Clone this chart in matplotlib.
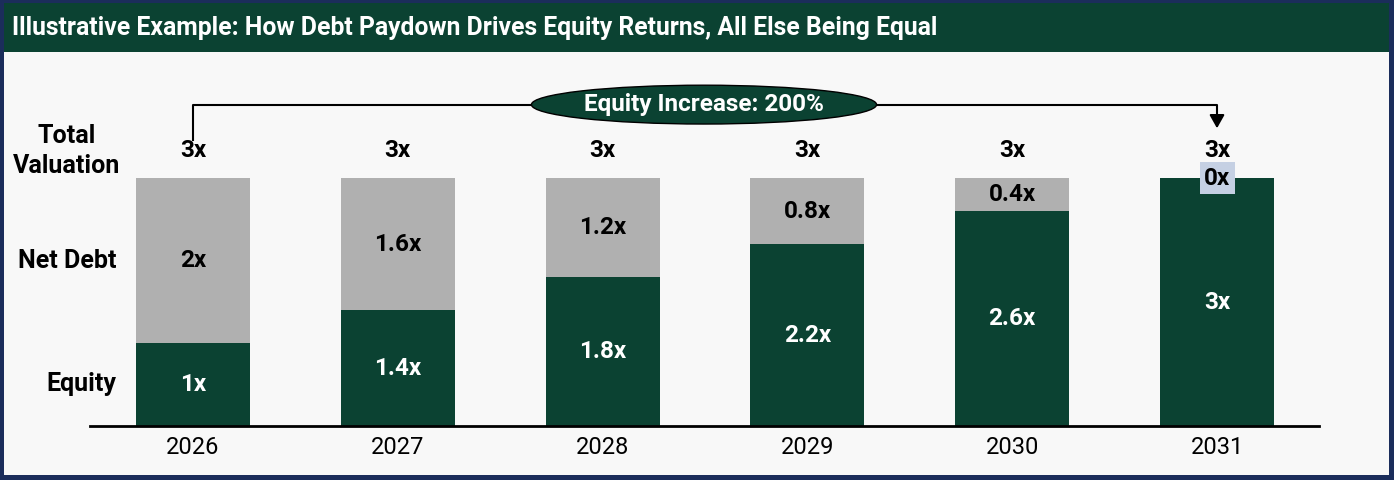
import numpy as np
import matplotlib.pyplot as plt
from matplotlib.patches import Rectangle, Ellipse

# Datos del gráfico
years = ['2026', '2027', '2028', '2029', '2030', '2031']
equity = [1.0, 1.4, 1.8, 2.2, 2.6, 3.0]
net_debt = [2.0, 1.6, 1.2, 0.8, 0.4, 0.0]
equity_labels = ['1x', '1.4x', '1.8x', '2.2x', '2.6x', '3x']
debt_labels = ['2x', '1.6x', '1.2x', '0.8x', '0.4x', '0x']
total_labels = ['3x', '3x', '3x', '3x', '3x', '3x']
row_labels = ['Total\nValuation', 'Net Debt', 'Equity']
title = 'Illustrative Example: How Debt Paydown Drives Equity Returns, All Else Being Equal'
callout = 'Equity Increase: 200%'

green = '#0B4232'
gray = '#B0B0B0'
bg = '#F8F8F8'
navy = '#1B2D5B'

W, H = 1394, 480
fig = plt.figure(figsize=(W / 100, H / 100), dpi=100, facecolor=navy)

# Fondo y barra de título
fig.patches.append(Rectangle((4 / W, 5 / H), 1385 / W, 470 / H,
                             transform=fig.transFigure, facecolor=bg, edgecolor='none', zorder=-3))
fig.patches.append(Rectangle((4 / W, (H - 52) / H), 1385 / W, 49 / H,
                             transform=fig.transFigure, facecolor=green, edgecolor='none', zorder=-2))
fig.text(12 / W, (H - 28) / H, title, color='white', fontsize=17.8, fontweight='bold',
         family='Roboto', va='center', ha='left')

# Ejes del gráfico
ax = fig.add_axes([90 / W, (H - 426) / H, 1229 / W, 366 / H])
ax.set_facecolor('none')
x = np.arange(len(years))
ax.bar(x, equity, width=0.556, color=green, zorder=2)
ax.bar(x, net_debt, width=0.556, bottom=equity, color=gray, zorder=2)
ax.set_xlim(-0.503, 5.498)
ax.set_ylim(0, 4.43)

for side in ['top', 'right', 'left']:
    ax.spines[side].set_visible(False)
ax.spines['bottom'].set_linewidth(2)
ax.set_yticks([])
ax.set_xticks(x)
ax.set_xticklabels(years, fontsize=17, family='Roboto')
ax.tick_params(axis='x', length=0, pad=7)

font = 'Roboto'
fs = 17.5
for i in x:
    total = equity[i] + net_debt[i]
    ax.text(i, equity[i] / 2, equity_labels[i], ha='center', va='center', color='white',
            fontsize=fs, fontweight='bold', family=font, zorder=3)
    if net_debt[i] > 0:
        ax.text(i, equity[i] + net_debt[i] / 2, debt_labels[i], ha='center', va='center',
                color='black', fontsize=fs, fontweight='bold', family=font, zorder=3)
    else:
        ax.text(i, total, debt_labels[i], ha='center', va='center', color='black',
                fontsize=fs, fontweight='bold', family=font, zorder=3,
                bbox=dict(boxstyle='square,pad=0.18', facecolor='#C5D0E3', edgecolor='none'))
    ax.text(i, 3.33, total_labels[i], ha='center', va='center', color='black',
            fontsize=fs, fontweight='bold', family=font, zorder=3)

# Etiquetas de filas (x en píxeles de figura)
row_x = [67, 67, 81]
for lab, yv, xp in zip(row_labels, [3.33, 2.0, 0.51], row_x):
    ax.text((xp - 90) / 1229, yv, lab, transform=ax.get_yaxis_transform(), ha='center',
            va='center', fontsize=18, fontweight='bold', family=font, linespacing=1.3,
            clip_on=False)

# Corchete con flecha
ax.plot([0, 0, 5, 5], [3.46, 3.89, 3.89, 3.64], color='black', lw=1.5, clip_on=False, zorder=3)
ax.annotate('', xy=(5, 3.57), xytext=(5, 3.7),
            arrowprops=dict(arrowstyle='-|>,head_width=0.45,head_length=0.8', color='black', lw=1.5),
            annotation_clip=False)
ax.add_patch(Ellipse((2.495, 3.89), 1.685, 0.47, facecolor=green, edgecolor='black',
                     lw=1, zorder=4, clip_on=False))
ax.text(2.495, 3.89, callout, ha='center', va='center', color='white', fontsize=17.5,
        fontweight='bold', family=font, zorder=5)

fig.savefig('out.png', dpi=100, facecolor=navy)
